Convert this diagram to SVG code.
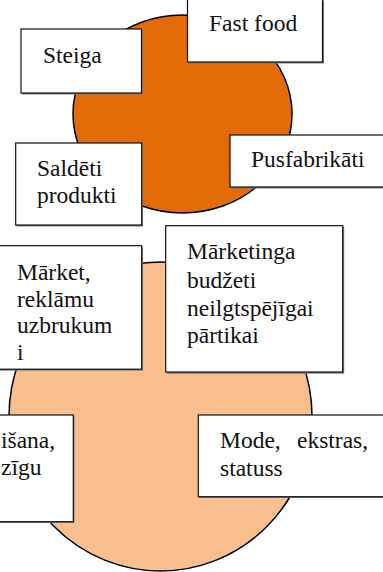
<svg xmlns="http://www.w3.org/2000/svg" width="383" height="572" viewBox="0 0 383 572">
<style>
.box{fill:#fff;stroke:#111;stroke-width:1.2}
.shadow{fill:#7a7a7a}
.t{font-family:"Liberation Serif","Times New Roman",serif;font-size:23.5px;fill:#111}
.circ{stroke:#000;stroke-width:1.5}
</style>
<rect width="383" height="572" fill="#fff"/>
<g id="circle-top"><ellipse class="circ" cx="182.5" cy="114" rx="109.5" ry="99" fill="#E36C09"/></g>
<g id="circle-bottom"><ellipse class="circ" cx="160.5" cy="416.5" rx="151.5" ry="154.5" fill="#FABF8F"/></g>
<g id="connectors"></g>
<g id="fast-food">
<rect class="shadow" x="188.5" y="0.5" width="135.5" height="63"/>
<rect class="box" x="187.5" y="-1" width="135" height="63"/>
<text class="t" x="209" y="30.5">Fast food</text>
</g>
<g id="steiga">
<rect class="shadow" x="22" y="30" width="121" height="64.5"/>
<rect class="box" x="21" y="29" width="120.5" height="64"/>
<text class="t" x="43" y="63">Steiga</text>
</g>
<g id="pusfabrikati">
<rect class="shadow" x="231" y="136" width="160" height="52.5"/>
<rect class="box" x="230" y="135" width="160" height="52"/>
<text class="t" x="251" y="167">Pusfabrikāti</text>
</g>
<g id="saldeti">
<rect class="shadow" x="16.5" y="144" width="126.5" height="82.5"/>
<rect class="box" x="15.7" y="143" width="126" height="82"/>
<text class="t" x="37" y="176">Saldēti</text>
<text class="t" x="37" y="203">produkti</text>
</g>
<g id="market">
<rect class="shadow" x="-5" y="246.7" width="148" height="124"/>
<rect class="box" x="-6" y="245.7" width="147.7" height="123.5"/>
<text class="t" x="17" y="280">Mārket,</text>
<text class="t" x="17" y="306.5">reklāmu</text>
<text class="t" x="17" y="333">uzbrukum</text>
<text class="t" x="17" y="360">i</text>
</g>
<g id="marketinga">
<rect class="shadow" x="166.7" y="226.7" width="177.5" height="147"/>
<rect class="box" x="165.7" y="225.7" width="177" height="146.3"/>
<text class="t" x="187" y="259">Mārketinga</text>
<text class="t" x="187" y="287.5">budžeti</text>
<text class="t" x="187" y="315.5">neilgtspējīgai</text>
<text class="t" x="187" y="343">pārtikai</text>
</g>
<g id="lower-left">
<rect class="shadow" x="-5" y="416" width="79.5" height="107"/>
<rect class="box" x="-6" y="415" width="79.3" height="106.7"/>
<text class="t" x="1" y="448">išana,</text>
<text class="t" x="1" y="475">zīgu</text>
</g>
<g id="mode">
<rect class="shadow" x="199.3" y="416" width="190" height="82"/>
<rect class="box" x="198.3" y="415" width="190" height="81.7"/>
<text class="t" y="448"><tspan x="220">Mode,</tspan><tspan x="297">ekstras,</tspan></text>
<text class="t" x="220" y="476">statuss</text>
</g>
</svg>
